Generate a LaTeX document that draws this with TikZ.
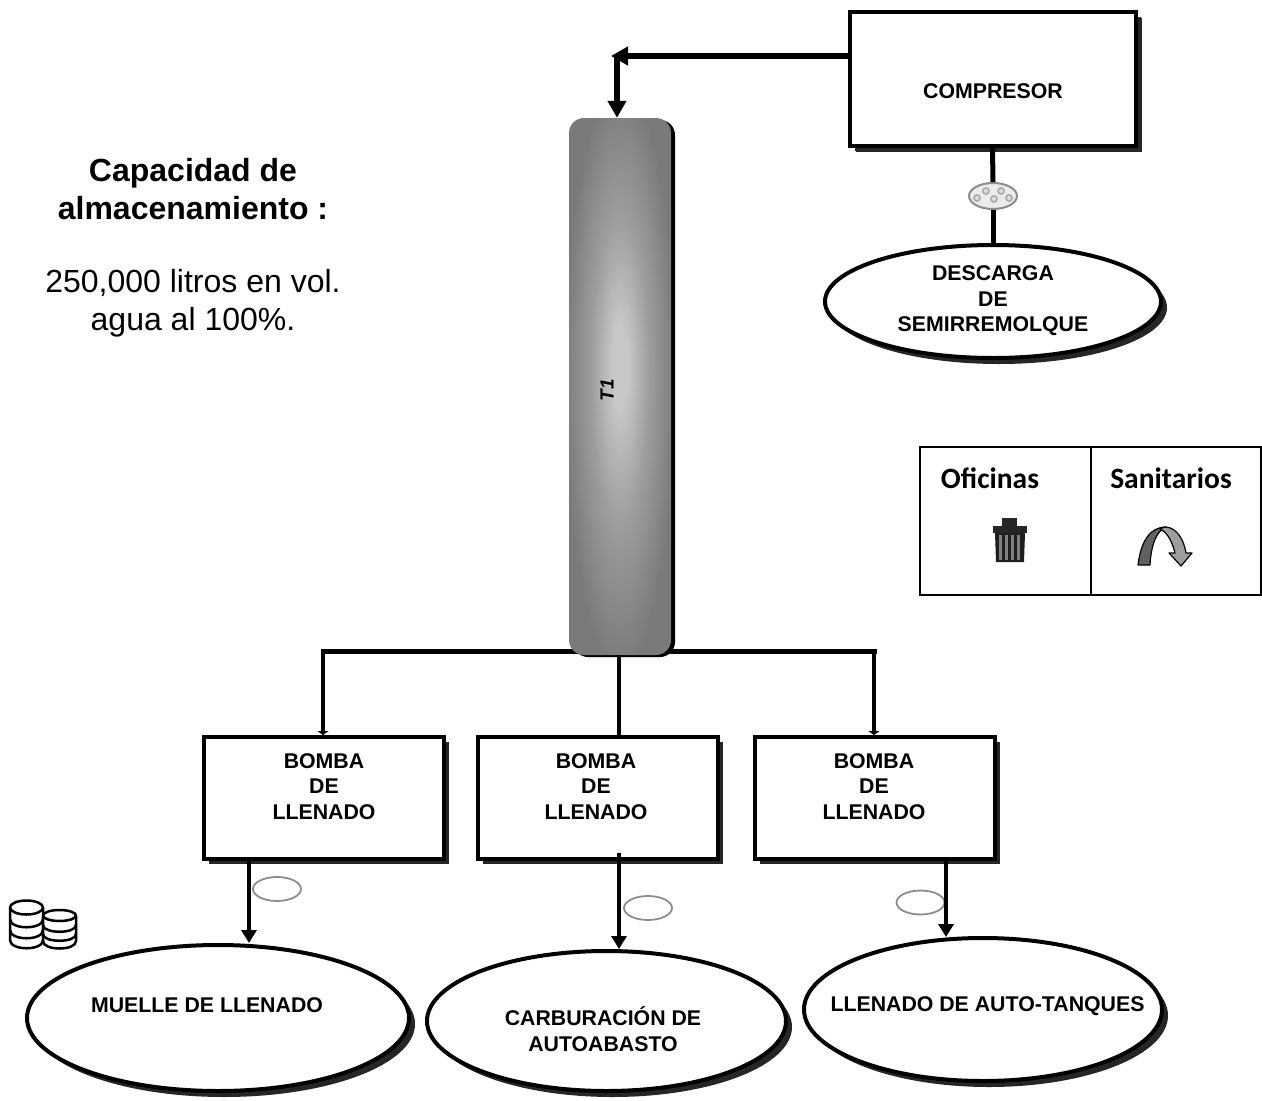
\documentclass[tikz,border=0pt]{standalone}
\usepackage{fontspec}
\setmainfont{Liberation Sans}
\newfontfamily\legendfont{Carlito}
\usetikzlibrary{shapes.geometric,shadows,arrows.meta,calc}
\definecolor{tankhi}{gray}{0.78}
\definecolor{tankmid}{gray}{0.62}
\definecolor{tanklo}{gray}{0.48}
\pgfdeclareradialshading{tankshade}{\pgfpoint{0bp}{2bp}}{
  color(0bp)=(tankhi); color(4bp)=(tankhi); color(14bp)=(tankmid); color(27bp)=(tanklo); color(50bp)=(tanklo)}
\tikzset{
  x=1pt,y=-1pt,
  blackshadow/.style={drop shadow={shadow xshift=#1pt,shadow yshift=-#1pt,fill=black!85,opacity=1}},
  flowbox/.style={draw=black,line width=4pt,fill=white,rectangle,inner sep=0pt,blackshadow=5},
  flowoval/.style={draw=black,line width=4pt,fill=white,ellipse,inner sep=0pt,blackshadow=6},
  boxtext/.style={font=\fontsize{21.3}{25.5}\selectfont\bfseries,align=center,inner sep=0pt},
  heading/.style={font=\fontsize{32}{38}\selectfont,align=center,inner sep=0pt},
  legendtext/.style={font=\legendfont\fontsize{29.5}{32}\selectfont\bfseries,inner sep=0pt},
  conn/.style={draw=black,line width=5pt},
  thinconn/.style={draw=black,line width=4.5pt},
  bigtip/.style={-{Triangle[length=17pt,width=18pt]}},
  smalltip/.style={-{Triangle[length=13pt,width=15pt]}},
  barbtip/.style={-{Triangle[length=4pt,width=11pt]}},
  gapoval/.style={draw=black!45,line width=1.8pt,fill=white,ellipse,inner sep=0pt,minimum width=48pt,minimum height=24pt},
  icon/.style={draw=black,line width=2.5pt,line join=round},
}
\begin{document}
\begin{tikzpicture}
\useasboundingbox (0,0) rectangle (1262,1101);
% bus, behind the tank
\coordinate (bus1) at (323,651);
\coordinate (bus2) at (619,651);
\coordinate (bus3) at (874,651);
\draw[conn,line cap=rect] (bus1) -- (bus3);
% tank
\node[rectangle,rounded corners=15pt,minimum width=102pt,minimum height=537pt,inner sep=0pt,
      shading=tankshade,
      drop shadow={shadow xshift=4pt,shadow yshift=-2pt,fill=black,opacity=1}] (tank) at (620,386.5) {};
\node[font=\fontsize{19}{19}\selectfont\bfseries\itshape,rotate=90,inner sep=0pt] (tanklabel) at (607,390) {T1};
% boxes
\node[flowbox,blackshadow=6,minimum width=286pt,minimum height=134pt] (comp) at (992.5,79) {};
\node[boxtext] (complabel) at (993,91) {COMPRESOR};
\node[flowoval,minimum width=336pt,minimum height=113pt] (desc) at (993,301.5) {};
\node[boxtext] (desclabel) at (993,301) {DESCARGA\\DE\\SEMIRREMOLQUE};
\node[draw=black!45,line width=2pt,fill=black!8,ellipse,inner sep=0pt,minimum width=48pt,minimum height=26pt] (valve) at (993,196) {};
\foreach \dx/\dy in {-7/-5,8/-5,-16/2,1/3,16/2}{
  \fill[black!32] ($(valve.center)+(\dx,\dy)$) circle (4pt);
  \fill[black!12] ($(valve.center)+(\dx,\dy)$) circle (2pt);
}
\node[flowbox,minimum width=240pt,minimum height=122pt] (b1) at (324,798) {};
\node[flowbox,minimum width=240pt,minimum height=122pt] (b2) at (597.5,798) {};
\node[flowbox,minimum width=240pt,minimum height=122pt] (b3) at (875,798) {};
\node[boxtext] (b1label) at (324,786.5) {BOMBA\\DE\\LLENADO};
\node[boxtext] (b2label) at (596,786.5) {BOMBA\\DE\\LLENADO};
\node[boxtext] (b3label) at (874,786.5) {BOMBA\\DE\\LLENADO};
\node[flowoval,minimum width=382pt,minimum height=146pt] (e1) at (218,1018) {};
\node[flowoval,minimum width=359pt,minimum height=140pt] (e2) at (606.5,1021) {};
\node[flowoval,minimum width=358pt,minimum height=143pt] (e3) at (983,1009.5) {};
\node[boxtext] (e1label) at (207,1005) {MUELLE DE LLENADO};
\node[boxtext] (e2label) at (603,1029) {CARBURACIÓN DE\\AUTOABASTO};
\node[boxtext] (e3label) at (987.5,1006) {LLENADO DE AUTO-TANQUES};
% connectors
\coordinate (elbow) at (617,56);
\draw[line width=5.5pt,bigtip] (comp.west |- elbow) -- ($(elbow)+(-6,0)$);
\draw[line width=6.5pt,bigtip] (elbow) -- (tank.north -| elbow);
\draw[thinconn,barbtip] (bus1) -- (b1.north -| bus1);
\draw[thinconn] (tank.south -| bus2) -- (b2.north -| bus2);
\draw[thinconn,barbtip] (bus3) -- (b3.north -| bus3);
\node[gapoval] (g1) at (277,889) {};
\node[gapoval] (g2) at (648,908) {};
\node[gapoval] (g3) at (920.5,902.5) {};
\coordinate (d1) at (249,861);
\coordinate (d2) at (619,853);
\coordinate (d3) at (946,861);
\draw[thinconn,smalltip] (d1) -- (e1.north -| d1);
\draw[thinconn,smalltip] (d2) -- (e2.north -| d2);
\draw[thinconn,smalltip] (d3) -- ($(e3.north -| d3)+(0,1)$);
\draw[conn] (comp.south) -- (valve.north);
\draw[conn] (valve.south) -- (desc.north);
% left text
\node[heading,font=\fontsize{32}{38}\selectfont\bfseries] (cap) at (193,189) {Capacidad de\\almacenamiento :};
\node[heading] (vol) at (193,303) {250,000 litros en vol.\\agua al 100\%.};
% legend
\node[draw=black,line width=2pt,minimum width=341pt,minimum height=148pt,inner sep=0pt] (legend) at (1090.5,521) {};
\coordinate (divider) at (1091,521);
\draw[black,line width=2pt] (legend.north -| divider) -- (legend.south -| divider);
\node[legendtext] (of) at (990,478) {Oficinas};
\node[legendtext] (sa) at (1171,478) {Sanitarios};
% trash can
\fill[black!85] (993,526) rectangle (1027,533);
\fill[black!85] (1002,518) rectangle (1017,526);
\fill[black!88] (995,533) -- (1025,533) -- (1024,562) -- (996,562) -- cycle;
\foreach \tx in {999,1005,1011,1017}
  \fill[black!50] (\tx,535) rectangle (\tx+3.2,560);
% curved arrow
\fill[black!62,draw=black,line width=1.2pt,line join=round] (1138,565) .. controls (1141,541) and (1150,527) .. (1166,527)
   .. controls (1156,531) and (1151,546) .. (1150,565) -- cycle;
\fill[black!38,draw=black,line width=1.2pt,line join=round] (1166,527) .. controls (1177,528) and (1184,540) .. (1186,553)
   -- (1192,553) -- (1181,566) -- (1169,553) -- (1175,553) .. controls (1172,541) and (1167,532) .. (1160,529) .. controls (1162,528) and (1164,527) .. (1166,527) -- cycle;
% coins
\draw[icon,fill=white] (10,908) -- (10,940) .. controls (10,951) and (43,951) .. (43,940) -- (43,908);
\draw[icon] (10,919) .. controls (10,930) and (43,930) .. (43,919);
\draw[icon] (10,930) .. controls (10,941) and (43,941) .. (43,930);
\draw[icon,fill=white] (26.5,907.5) ellipse (16.5pt and 7pt);
\draw[icon,fill=white] (43,916) -- (43,941) .. controls (43,951) and (76,951) .. (76,941) -- (76,916);
\draw[icon] (43,925) .. controls (43,934) and (76,934) .. (76,925);
\draw[icon] (43,934) .. controls (43,943) and (76,943) .. (76,934);
\draw[icon,fill=white] (59.5,915.5) ellipse (16.5pt and 5.5pt);
\end{tikzpicture}
\end{document}
